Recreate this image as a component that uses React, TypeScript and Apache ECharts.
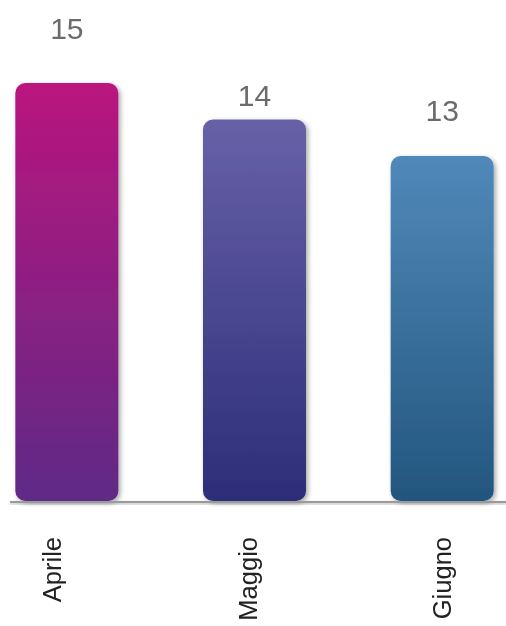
import React, { useEffect, useRef } from "react";
import * as echarts from "echarts";

const categories = ["Aprile", "Maggio", "Giugno"];
const values = [15, 14, 13];
const topColors = ["#BA157E", "#6761A8", "#5089BA"];
const bottomColors = ["#5F2A86", "#2C2D78", "#23567E"];
const labelDistances = [40, 9, 31];
const categoryLabelLineHeights = [30, 14, 26];
const categoryLabelAligns = ["bottom", "bottom", "middle"];

const OFFSET = 27;
const CHART_W = 563;

export default function App() {
  const ref = useRef<HTMLDivElement>(null);
  useEffect(() => {
    if (!ref.current) return;
    const chart = echarts.init(ref.current, null, { renderer: "svg" });
    chart.setOption({
      animation: false,
      grid: { left: 0, right: 0, top: 83, bottom: 125, containLabel: false },
      xAxis: {
        type: "category",
        data: categories.map((c, i) => ({
          value: c,
          textStyle: {
            verticalAlign: categoryLabelAligns[i],
            lineHeight: categoryLabelLineHeights[i],
          },
        })),
        axisLine: { show: false },
        axisTick: { show: false },
        axisLabel: {
          rotate: 90,
          margin: 36,
          fontSize: 25.5,
          color: "#222",
          fontFamily: "Liberation Sans, Arial, sans-serif",
        },
      },
      yAxis: {
        type: "value",
        min: 3.55,
        max: 15,
        show: false,
        splitLine: { show: false },
      },
      series: [
        {
          type: "bar",
          barWidth: 103,
          data: values.map((v, i) => ({
            value: v,
            itemStyle: {
              color: new echarts.graphic.LinearGradient(0, 0, 0, 1, [
                { offset: 0, color: topColors[i] },
                { offset: 1, color: bottomColors[i] },
              ]),
            },
            label: { distance: labelDistances[i] },
          })),
          itemStyle: {
            borderRadius: 10,
            shadowBlur: 5,
            shadowColor: "rgba(0,0,0,0.35)",
            shadowOffsetX: 2,
            shadowOffsetY: 2,
          },
          label: {
            show: true,
            position: "top",
            fontSize: 30,
            color: "#6b6b6b",
            fontFamily: "Liberation Sans, Arial, sans-serif",
          },
        },
      ],
      graphic: [
        {
          type: "rect",
          z: 100,
          shape: { x: 10 + OFFSET, y: 501, width: 510, height: 2 },
          style: {
            fill: "#9a9a9a",
            shadowBlur: 3,
            shadowColor: "rgba(0,0,0,0.3)",
            shadowOffsetY: 1.5,
          },
        },
      ],
    });
    return () => chart.dispose();
  }, []);
  return (
    <div
      style={{
        position: "fixed",
        left: 0,
        top: 0,
        width: 506,
        height: 626,
        overflow: "hidden",
      }}
    >
      <div
        ref={ref}
        style={{ position: "absolute", left: -OFFSET, top: 0, width: CHART_W, height: 626 }}
      />
    </div>
  );
}
